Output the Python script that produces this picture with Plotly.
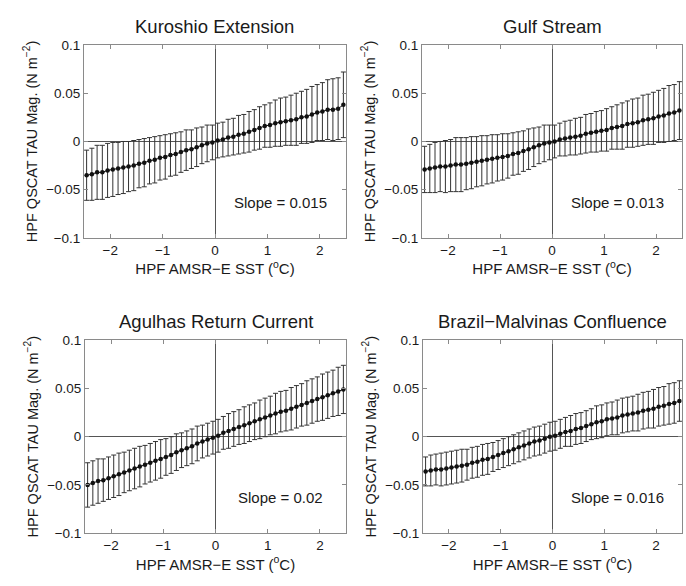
import plotly.graph_objects as go

# Bin centres of high-pass SST anomaly (deg C)
sst_bins = [-2.45, -2.35, -2.25, -2.15, -2.05, -1.95, -1.85, -1.75, -1.65, -1.55,
            -1.45, -1.35, -1.25, -1.15, -1.05, -0.95, -0.85, -0.75, -0.65, -0.55,
            -0.45, -0.35, -0.25, -0.15, -0.05, 0.05, 0.15, 0.25, 0.35, 0.45,
            0.55, 0.65, 0.75, 0.85, 0.95, 1.05, 1.15, 1.25, 1.35, 1.45,
            1.55, 1.65, 1.75, 1.85, 1.95, 2.05, 2.15, 2.25, 2.35, 2.45]

regions = ["Kuroshio Extension", "Gulf Stream",
           "Agulhas Return Current", "Brazil−Malvinas Confluence"]
slopes = [0.015, 0.013, 0.02, 0.016]

# Bin-mean stress magnitude anomaly (N m^-2)
kuroshio_mean = [-0.035, -0.034, -0.032, -0.032, -0.030, -0.029, -0.028, -0.027, -0.026, -0.025,
                 -0.023, -0.022, -0.020, -0.019, -0.017, -0.016, -0.014, -0.013, -0.011, -0.009,
                 -0.008, -0.006, -0.004, -0.002, -0.001, 0.001, 0.002, 0.004, 0.005, 0.007,
                 0.008, 0.010, 0.012, 0.014, 0.016, 0.017, 0.019, 0.020, 0.021, 0.022,
                 0.023, 0.025, 0.026, 0.028, 0.030, 0.031, 0.033, 0.033, 0.034, 0.038]
gulf_mean = [-0.029, -0.028, -0.027, -0.026, -0.026, -0.025, -0.024, -0.024, -0.023, -0.022,
             -0.021, -0.020, -0.019, -0.018, -0.017, -0.016, -0.015, -0.013, -0.012, -0.010,
             -0.008, -0.006, -0.004, -0.002, -0.001, 0.000, 0.002, 0.003, 0.004, 0.005,
             0.006, 0.008, 0.009, 0.010, 0.011, 0.012, 0.014, 0.015, 0.016, 0.018,
             0.019, 0.020, 0.022, 0.023, 0.024, 0.026, 0.027, 0.029, 0.030, 0.032]
agulhas_mean = [-0.050, -0.048, -0.046, -0.045, -0.043, -0.041, -0.039, -0.037, -0.035, -0.033,
                -0.031, -0.029, -0.027, -0.025, -0.023, -0.021, -0.019, -0.016, -0.014, -0.012,
                -0.010, -0.007, -0.005, -0.003, -0.001, 0.001, 0.004, 0.006, 0.008, 0.010,
                0.012, 0.014, 0.016, 0.018, 0.020, 0.022, 0.024, 0.026, 0.027, 0.029,
                0.031, 0.033, 0.035, 0.037, 0.039, 0.041, 0.043, 0.045, 0.047, 0.049]
brazil_mean = [-0.036, -0.035, -0.034, -0.034, -0.033, -0.032, -0.031, -0.030, -0.029, -0.027,
               -0.026, -0.024, -0.023, -0.021, -0.019, -0.017, -0.015, -0.013, -0.011, -0.009,
               -0.007, -0.005, -0.004, -0.002, 0.000, 0.001, 0.003, 0.005, 0.006, 0.008,
               0.009, 0.011, 0.013, 0.015, 0.016, 0.018, 0.019, 0.020, 0.022, 0.023,
               0.024, 0.025, 0.027, 0.028, 0.029, 0.031, 0.032, 0.034, 0.035, 0.037]

# One standard deviation about each bin mean (N m^-2)
kuroshio_std = [0.026, 0.027, 0.028, 0.028, 0.028, 0.028, 0.027, 0.027, 0.026, 0.026,
                0.025, 0.025, 0.024, 0.024, 0.023, 0.023, 0.022, 0.022, 0.021, 0.021,
                0.020, 0.020, 0.019, 0.019, 0.018, 0.018, 0.018, 0.019, 0.019, 0.020,
                0.020, 0.021, 0.021, 0.022, 0.022, 0.023, 0.024, 0.025, 0.025, 0.026,
                0.027, 0.027, 0.028, 0.029, 0.029, 0.030, 0.031, 0.032, 0.032, 0.034]
gulf_std = [0.024, 0.025, 0.026, 0.026, 0.027, 0.027, 0.028, 0.028, 0.027, 0.027,
            0.026, 0.026, 0.025, 0.025, 0.024, 0.024, 0.023, 0.022, 0.022, 0.021,
            0.021, 0.020, 0.019, 0.019, 0.018, 0.017, 0.017, 0.018, 0.018, 0.019,
            0.019, 0.020, 0.020, 0.021, 0.021, 0.022, 0.022, 0.023, 0.024, 0.024,
            0.025, 0.025, 0.026, 0.026, 0.027, 0.027, 0.028, 0.029, 0.029, 0.030]
agulhas_std = [0.023, 0.023, 0.023, 0.022, 0.022, 0.022, 0.022, 0.021, 0.021, 0.021,
               0.021, 0.020, 0.020, 0.020, 0.020, 0.019, 0.019, 0.019, 0.018, 0.018,
               0.018, 0.018, 0.017, 0.017, 0.017, 0.017, 0.017, 0.018, 0.018, 0.018,
               0.019, 0.019, 0.019, 0.020, 0.020, 0.020, 0.021, 0.021, 0.021, 0.022,
               0.022, 0.022, 0.023, 0.023, 0.023, 0.024, 0.024, 0.024, 0.025, 0.025]
brazil_std = [0.015, 0.016, 0.016, 0.017, 0.017, 0.017, 0.017, 0.017, 0.016, 0.016,
              0.016, 0.016, 0.016, 0.015, 0.015, 0.015, 0.015, 0.015, 0.015, 0.015,
              0.015, 0.015, 0.015, 0.015, 0.015, 0.015, 0.015, 0.015, 0.016, 0.016,
              0.016, 0.016, 0.016, 0.017, 0.017, 0.017, 0.017, 0.018, 0.018, 0.018,
              0.018, 0.019, 0.019, 0.019, 0.020, 0.020, 0.020, 0.021, 0.021, 0.021]

x_ticks = [-2, -1, 0, 1, 2]
x_tick_text = ["−2", "−1", "0", "1", "2"]
y_ticks = [-0.1, -0.05, 0, 0.05, 0.1]
y_tick_text = ["−0.1", "−0.05", "0", "0.05", "0.1"]

means = [kuroshio_mean, gulf_mean, agulhas_mean, brazil_mean]
stds = [kuroshio_std, gulf_std, agulhas_std, brazil_std]

W, H = 686, 586
# panel boxes in pixels: (left, right, top, bottom)
boxes = [(84, 346, 39, 237), (422, 682, 39, 237),
         (85, 346, 342, 540), (423, 682, 342, 540)]

FONT = "Liberation Sans, Arial, Helvetica, sans-serif"
TXT = "#1a1a1a"
FRAME = "#8a8a8a"

fig = go.Figure()
layout = dict(
    width=W, height=H,
    margin=dict(l=0, r=0, t=0, b=0),
    paper_bgcolor="white", plot_bgcolor="white",
    showlegend=False,
    font=dict(family=FONT, size=13, color=TXT),
)
annotations = []

for i in range(4):
    l, r, t, b = boxes[i]
    xa = "xaxis" if i == 0 else f"xaxis{i+1}"
    ya = "yaxis" if i == 0 else f"yaxis{i+1}"
    xref = "x" if i == 0 else f"x{i+1}"
    yref = "y" if i == 0 else f"y{i+1}"

    fig.add_trace(go.Scatter(
        x=sst_bins, y=means[i],
        mode="lines+markers",
        line=dict(color="#111111", width=1),
        marker=dict(color="#111111", size=4.5),
        error_y=dict(type="data", array=stds[i], visible=True,
                     color="#333333", thickness=1, width=2.5),
        xaxis=xref, yaxis=yref,
    ))

    common = dict(
        showgrid=False, showline=True, linecolor=FRAME, linewidth=1, mirror="ticks",
        ticks="inside", ticklen=4, tickcolor=FRAME, tickwidth=1,
        zeroline=True, zerolinecolor="#555555", zerolinewidth=1.4,
        tickfont=dict(family=FONT, size=13.5, color=TXT),
    )
    layout[xa] = dict(
        common, domain=[l / W, r / W], range=[-2.5, 2.5],
        tickvals=x_ticks, ticktext=x_tick_text,
        anchor=yref,
        title=dict(text="HPF AMSR−E SST (<sup>o</sup>C)", standoff=5,
                   font=dict(family=FONT, size=15, color=TXT)),
    )
    layout[ya] = dict(
        common, domain=[1 - b / H, 1 - t / H], range=[-0.1, 0.1],
        tickvals=y_ticks, ticktext=y_tick_text,
        anchor=xref,
        title=dict(text="HPF QSCAT TAU Mag. (N m<sup>−2</sup>)", standoff=5,
                   font=dict(family=FONT, size=14.5, color=TXT)),
    )

    annotations.append(dict(
        text=regions[i], x=(l + r) / 2 / W, y=1 - (t - 19.5) / H,
        xref="paper", yref="paper", xanchor="center", yanchor="middle",
        showarrow=False, font=dict(family=FONT, size=18.5, color=TXT),
    ))
    annotations.append(dict(
        text=f"Slope = {slopes[i]}", x=1.25, y=-0.063,
        xref=xref, yref=yref, xanchor="center", yanchor="middle",
        showarrow=False, font=dict(family=FONT, size=15, color=TXT),
    ))

layout["annotations"] = annotations
fig.update_layout(**layout)
fig.write_html("out.html")
